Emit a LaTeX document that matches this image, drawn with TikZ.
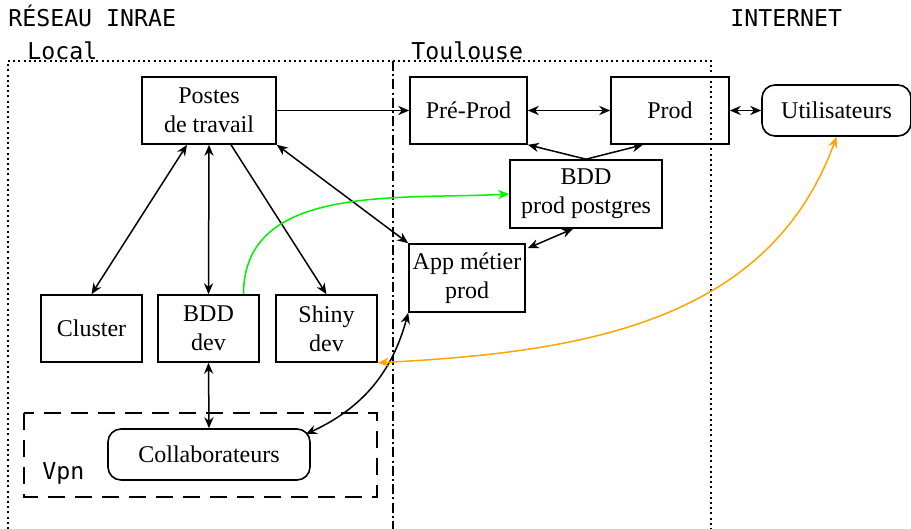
\documentclass[tikz,border=0pt]{standalone}
\usepackage{fontspec}
\setmainfont{Liberation Serif}
\newfontfamily\monof{DejaVu Sans Mono}
\usetikzlibrary{arrows.meta,calc}
\definecolor{myorange}{RGB}{255,165,0}
\definecolor{mygreen}{RGB}{0,240,0}
\begin{document}
\begin{tikzpicture}[x=0.5pt,y=-0.5pt,
  box/.style={draw,line width=0.8pt,align=center,inner sep=1pt,font=\fontsize{12}{14.5}\selectfont},
  rbox/.style={box,rounded corners=6.5pt},
  lbl/.style={inner sep=0pt,anchor=base west,font=\monof\fontsize{11.6}{13}\selectfont},
  conn/.style={line width=0.75pt,>={Stealth[length=5.5pt,width=4.6pt]}},
  dotline/.style={line width=0.75pt,dash pattern=on 1pt off 1.6pt},
  dashdotline/.style={line width=0.75pt,dash pattern=on 5pt off 1.6pt on 1pt off 1.6pt},
  vpnline/.style={line width=0.75pt,dash pattern=on 8.5pt off 5pt}
]
\useasboundingbox (0,0) rectangle (911,529);

% region frames
\draw[dotline] (8,529) -- (8,61) -- (711,61) -- (711,529);
\draw[dashdotline] (393,61) -- (393,529);
\draw[vpnline] (24,413) rectangle (377,497);

% region labels
\node[lbl] (reseau) at (8,27) {RÉSEAU INRAE};
\node[lbl] (internet) at (730,27) {INTERNET};
\node[lbl] (local) at (27,60) {Local};
\node[lbl] (toulouse) at (411,60) {Toulouse};
\node[lbl] (vpn) at (42,480) {Vpn};

% nodes
\node[box,minimum width=67pt,minimum height=33.5pt] (postes) at (209,110.5) {Postes\\de travail};
\node[box,minimum width=58.5pt,minimum height=33.5pt] (preprod) at (468.5,110.5) {Pré-Prod};
\node[box,minimum width=59pt,minimum height=33.5pt] (prod) at (670,110.5) {Prod};
\node[rbox,minimum width=74.5pt,minimum height=25.5pt] (util) at (836.5,110.5) {Utilisateurs};
\node[box,minimum width=76pt,minimum height=34pt] (bddprod) at (586,194) {BDD\\prod postgres};
\node[box,minimum width=58pt,minimum height=34pt] (app) at (467,278) {App métier\\prod};
\node[box,minimum width=50.5pt,minimum height=33.5pt] (cluster) at (91.5,328.5) {Cluster};
\node[box,minimum width=50.5pt,minimum height=33.5pt] (bdddev) at (208.5,328.5) {BDD\\dev};
\node[box,minimum width=50.5pt,minimum height=33.5pt] (shiny) at (326.5,328.5) {Shiny\\dev};
\node[rbox,minimum width=101pt,minimum height=25.5pt] (collab) at (209,454.5) {Collaborateurs};

% connectors
\draw[conn,->] (postes.east) -- (preprod.west);
\draw[conn,<->] (preprod.east) -- (prod.west);
\draw[conn,<->] (prod.east) -- (util.west);
\draw[conn,->] (bddprod.north) -- (preprod.south east);
\draw[conn,->] (bddprod.north) -- ($(prod.south)+(-27,0)$);
\draw[conn,<->] ($(app.north east)+(2,5)$) -- ($(bddprod.south)+(-13,0)$);
\draw[conn,<->] (postes.south east) -- (app.north west);
\draw[conn,<->] ($(postes.south)+(-22,0)$) -- (cluster.north);
\draw[conn,<->] (postes.south) -- (bdddev.north);
\draw[conn,->] ($(postes.south)+(22,0)$) -- (shiny.north);
\draw[conn,<->] (bdddev.south) -- (collab.north);
\draw[conn,->,mygreen] ($(bdddev.north)+(35,0)$) to[out=90,in=183] (bddprod.west);
\draw[conn,<->] ($(collab.north east)+(-5,6)$) to[bend right=25] (app.south west);
\draw[conn,<->,myorange] (shiny.south east) to[out=3,in=-110] (util.south);
\end{tikzpicture}
\end{document}
